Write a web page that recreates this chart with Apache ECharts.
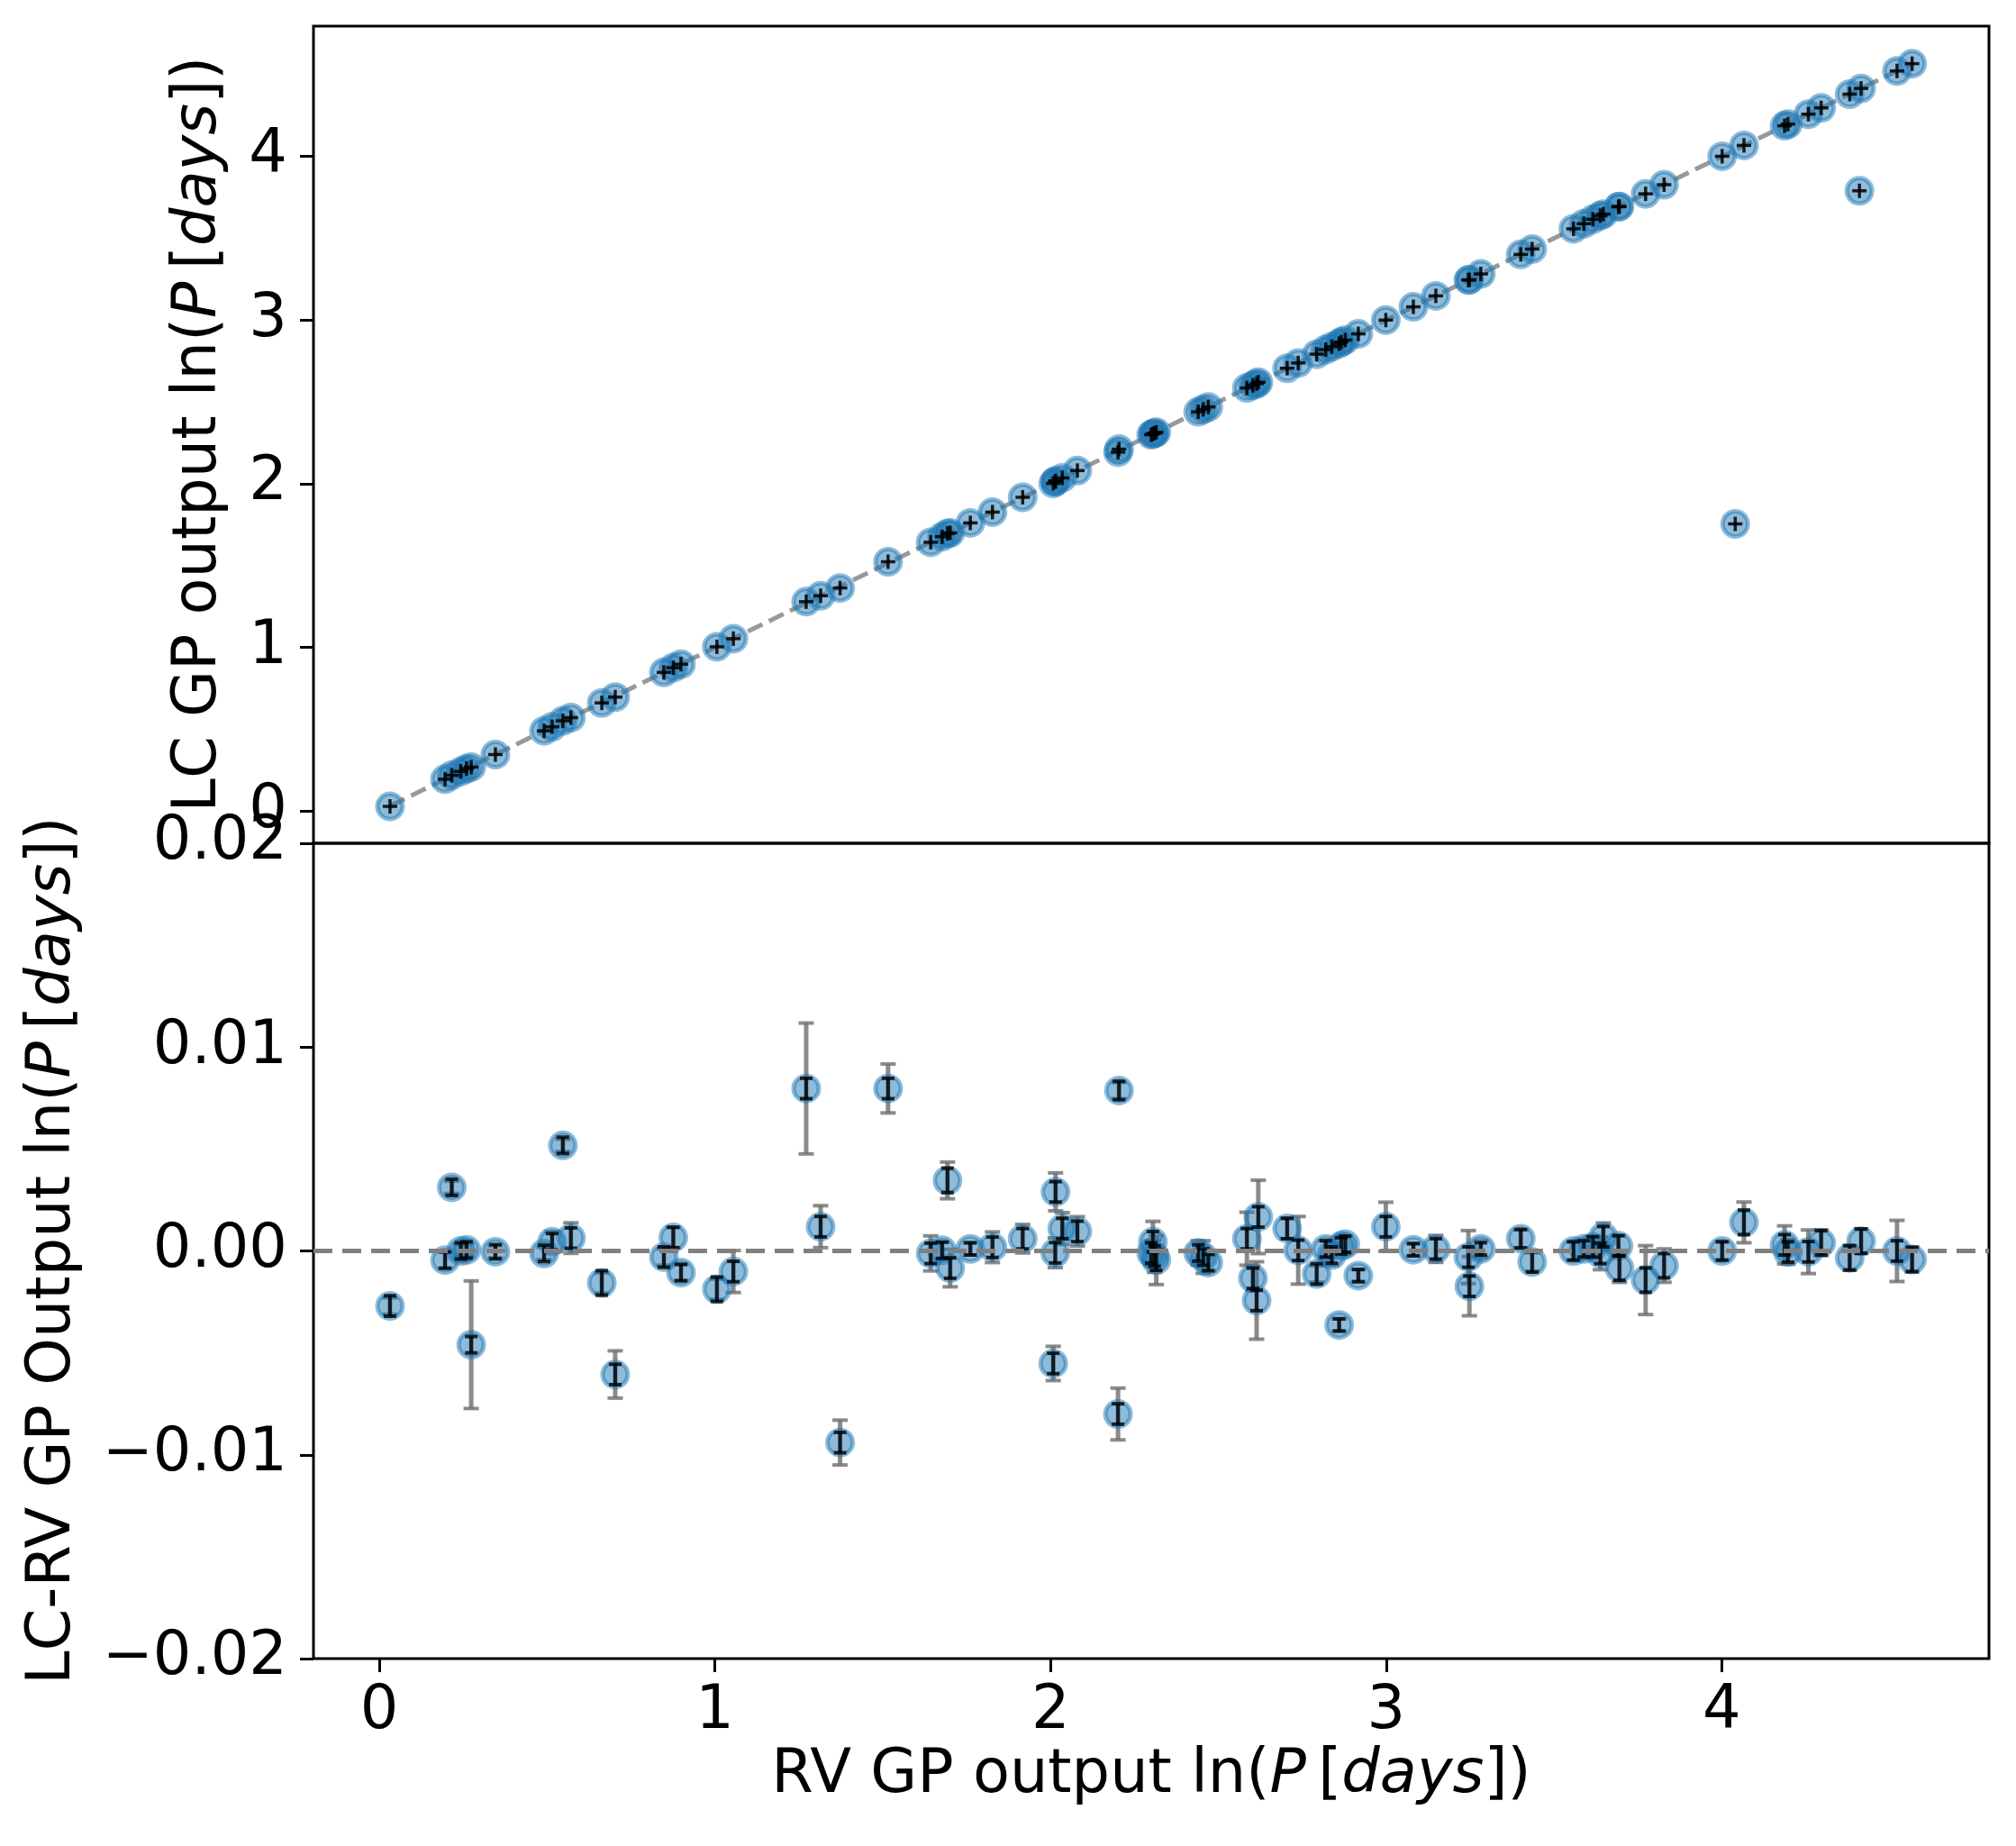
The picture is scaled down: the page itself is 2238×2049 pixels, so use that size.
<!DOCTYPE html>
<html>
<head>
<meta charset="utf-8">
<script src="https://cdn.jsdelivr.net/npm/echarts@6/dist/echarts.min.js"></script>
<style>
html,body{margin:0;padding:0;background:#fff;}
#chart{width:2238px;height:2049px;}
</style>
</head>
<body>
<div id="chart"></div>
<script>
// RV GP output ln(P) for every object shown in the residual panel
const rvLnP = [0.032,0.196,0.216,0.243,0.260,0.274,0.346,0.491,0.515,0.547,0.571,0.663,0.703,0.848,0.876,0.899,
  1.006,1.055,1.272,1.315,1.373,1.516,1.643,1.677,1.693,1.701,1.761,1.827,1.917,
  2.008,2.014,2.015,2.035,2.080,2.201,2.204,2.300,2.305,2.310,2.315,2.440,2.455,2.470,2.585,2.603,2.614,2.619,
  2.705,2.738,2.793,2.820,2.838,2.860,2.866,2.878,2.917,2.999,3.081,3.148,3.245,3.248,3.282,3.401,3.435,
  3.558,3.589,3.616,3.638,3.647,3.692,3.695,3.773,3.828,4.001,4.066,4.187,4.197,4.258,4.296,4.381,4.415,4.522,4.567];
// LC - RV ln(P)
const lcMinusRv = [-0.00270,-0.00045,0.00312,0.00000,0.00005,-0.00460,-0.00004,-0.00012,0.00045,0.00518,0.00063,-0.00157,-0.00606,-0.00030,0.00066,-0.00106,
  -0.00188,-0.00101,0.00797,0.00119,-0.00940,0.00797,-0.00012,0.00003,0.00346,-0.00084,0.00010,0.00018,0.00060,
  -0.00552,-0.00009,0.00290,0.00110,0.00096,-0.00800,0.00787,-0.00010,0.00045,-0.00025,-0.00045,-0.00010,-0.00030,-0.00057,0.00060,-0.00134,-0.00243,0.00167,
  0.00110,0.00003,-0.00113,0.00010,-0.00020,-0.00363,0.00025,0.00033,-0.00121,0.00119,0.00006,0.00010,-0.00030,-0.00173,0.00010,0.00060,-0.00054,
  0.00000,0.00010,0.00020,-0.00012,0.00070,0.00025,-0.00084,-0.00143,-0.00072,0.00000,0.00140,0.00030,-0.00005,-0.00004,0.00040,-0.00034,0.00048,0.00000,-0.00042];
// combined uncertainty (grey bars)
const lcMinusRvErr = [0.00040,0.00040,0.00030,0.00030,0.00030,0.00313,0.00030,0.00030,0.00050,0.00030,0.00075,0.00050,0.00116,0.00040,0.00050,0.00040,
  0.00050,0.00103,0.00321,0.00103,0.00110,0.00120,0.00086,0.00040,0.00090,0.00092,0.00030,0.00075,0.00070,
  0.00084,0.00073,0.00093,0.00078,0.00072,0.00127,0.00040,0.00060,0.00100,0.00080,0.00120,0.00060,0.00080,0.00040,0.00130,0.00060,0.00190,0.00180,
  0.00050,0.00166,0.00040,0.00040,0.00050,0.00030,0.00040,0.00040,0.00030,0.00120,0.00030,0.00066,0.00130,0.00145,0.00040,0.00045,0.00045,
  0.00045,0.00040,0.00050,0.00080,0.00067,0.00050,0.00070,0.00169,0.00082,0.00045,0.00100,0.00093,0.00060,0.00107,0.00063,0.00060,0.00060,0.00150,0.00060];
// small uncertainty (black bars)
const lcFitErr = [0.00050,0.00040,0.00040,0.00040,0.00040,0.00040,0.00035,0.00040,0.00040,0.00040,0.00050,0.00060,0.00050,0.00050,0.00050,0.00040,
  0.00060,0.00050,0.00050,0.00050,0.00050,0.00050,0.00050,0.00040,0.00060,0.00050,0.00030,0.00050,0.00050,
  0.00050,0.00050,0.00050,0.00050,0.00050,0.00050,0.00045,0.00050,0.00050,0.00050,0.00050,0.00040,0.00040,0.00040,0.00050,0.00050,0.00050,0.00050,
  0.00050,0.00050,0.00050,0.00040,0.00040,0.00030,0.00040,0.00040,0.00030,0.00050,0.00030,0.00050,0.00050,0.00050,0.00030,0.00045,0.00050,
  0.00045,0.00040,0.00050,0.00050,0.00050,0.00050,0.00060,0.00060,0.00060,0.00045,0.00060,0.00050,0.00050,0.00050,0.00060,0.00060,0.00060,0.00050,0.00060];
// objects whose LC period disagrees strongly (only visible in the upper panel)
const outlierRvLnP = [4.04, 4.41];
const outlierLcLnP = [1.755, 3.79];

const xTicks = [0, 1, 2, 3, 4];
const topYTicks = [0, 1, 2, 3, 4];
const bottomYTicks = [-0.02, -0.01, 0, 0.01, 0.02];

const FONT = 'DejaVu Sans';
const FS = 67;
const BLUE = 'rgba(31,119,180,0.5)';

const lcLnP = rvLnP.map((v, i) => v + lcMinusRv[i]);
const topPoints = rvLnP.map((v, i) => [v, lcLnP[i]]).concat(outlierRvLnP.map((v, i) => [v, outlierLcLnP[i]]));
const minX = Math.min(...rvLnP), maxX = Math.max(...rvLnP);

function errBar(color, lw, capW, capLw) {
  return function (params, api) {
    const x = api.value(0), y = api.value(1), e = api.value(2);
    const hi = api.coord([x, y + e]);
    const lo = api.coord([x, y - e]);
    const st = { stroke: color, lineWidth: lw, fill: null };
    const cs = { stroke: color, lineWidth: capLw, fill: null };
    return { type: 'group', children: [
      { type: 'line', shape: { x1: hi[0], y1: hi[1], x2: lo[0], y2: lo[1] }, style: st },
      { type: 'line', shape: { x1: hi[0] - capW / 2, y1: hi[1], x2: hi[0] + capW / 2, y2: hi[1] }, style: cs },
      { type: 'line', shape: { x1: lo[0] - capW / 2, y1: lo[1], x2: lo[0] + capW / 2, y2: lo[1] }, style: cs }
    ]};
  };
}
function plusMark(params, api) {
  const p = api.coord([api.value(0), api.value(1)]);
  const st = { stroke: 'rgba(0,0,0,0.85)', lineWidth: 3.5, fill: null };
  return { type: 'group', children: [
    { type: 'line', shape: { x1: p[0] - 8, y1: p[1], x2: p[0] + 8, y2: p[1] }, style: st },
    { type: 'line', shape: { x1: p[0], y1: p[1] - 8, x2: p[0], y2: p[1] + 8 }, style: st }
  ]};
}

const axisLabelBase = { color: '#000', fontSize: FS, fontFamily: FONT };
const tickBase = { show: true, inside: false, length: 15, lineStyle: { color: '#000', width: 3 } };
const noLine = { show: false, onZero: false };
const lnLabel = (pre) => '{n|' + pre + ' ln(}{i|P}{n|\u2009[}{i|days}{n|])}';
const rich = {
  n: { fontSize: FS, fontFamily: FONT, fill: '#000' },
  i: { fontSize: FS, fontFamily: FONT, fontStyle: 'italic', fill: '#000' }
};

const option = {
  animation: false,
  backgroundColor: '#fff',
  grid: [
    { left: 348, top: 29, width: 1860, height: 907, show: true, borderColor: '#000', borderWidth: 3, backgroundColor: 'transparent' },
    { left: 348, top: 936, width: 1860, height: 905, show: true, borderColor: '#000', borderWidth: 3, backgroundColor: 'transparent' }
  ],
  xAxis: [
    { gridIndex: 0, type: 'value', min: -0.196, max: 4.796, axisLine: noLine, axisTick: { show: false }, axisLabel: { show: false }, splitLine: { show: false } },
    { gridIndex: 1, type: 'value', min: -0.196, max: 4.796, axisLine: noLine, position: 'bottom',
      axisTick: Object.assign({ customValues: xTicks }, tickBase),
      axisLabel: Object.assign({ customValues: xTicks, margin: 26, formatter: v => String(v) }, axisLabelBase),
      splitLine: { show: false } }
  ],
  yAxis: [
    { gridIndex: 0, type: 'value', min: -0.196, max: 4.796, axisLine: noLine, position: 'left',
      axisTick: Object.assign({ customValues: topYTicks }, tickBase),
      axisLabel: Object.assign({ customValues: topYTicks, margin: 29, formatter: v => String(v) }, axisLabelBase),
      splitLine: { show: false } },
    { gridIndex: 1, type: 'value', min: -0.02, max: 0.02, axisLine: noLine, position: 'left',
      axisTick: Object.assign({ customValues: bottomYTicks }, tickBase),
      axisLabel: Object.assign({ customValues: bottomYTicks, margin: 29,
        formatter: v => (v < -1e-9 ? '\u2212' : '') + Math.abs(v).toFixed(2) }, axisLabelBase),
      splitLine: { show: false } }
  ],
  graphic: [
    { type: 'text', x: 1278, y: 1972, z: 100,
      style: { text: lnLabel('RV GP output'), rich: rich, align: 'center', verticalAlign: 'middle', textAlign: 'center', textVerticalAlign: 'middle', fontSize: FS, fontFamily: FONT, fill: '#000' } },
    { type: 'text', x: 222, y: 482, rotation: Math.PI / 2, z: 100,
      style: { text: lnLabel('LC GP output'), rich: rich, align: 'center', verticalAlign: 'middle', textAlign: 'center', textVerticalAlign: 'middle', fontSize: FS, fontFamily: FONT, fill: '#000' } },
    { type: 'text', x: 60, y: 1388, rotation: Math.PI / 2, z: 100,
      style: { text: lnLabel('LC-RV GP Output'), rich: rich, align: 'center', verticalAlign: 'middle', textAlign: 'center', textVerticalAlign: 'middle', fontSize: FS, fontFamily: FONT, fill: '#000' } }
  ],
  series: [
    { type: 'line', xAxisIndex: 0, yAxisIndex: 0, data: [[minX, minX], [maxX, maxX]], showSymbol: false, silent: true, z: 1,
      lineStyle: { color: 'rgba(128,128,128,0.8)', width: 5, type: [18, 8] } },
    { type: 'scatter', xAxisIndex: 0, yAxisIndex: 0, data: topPoints, symbol: 'circle', symbolSize: 28, z: 2,
      itemStyle: { color: BLUE, borderColor: BLUE, borderWidth: 5, opacity: 1 } },
    { type: 'custom', xAxisIndex: 0, yAxisIndex: 0, data: topPoints, renderItem: plusMark, z: 3, encode: { x: 0, y: 1 } },

    { type: 'custom', xAxisIndex: 1, yAxisIndex: 1, z: 2, encode: { x: 0, y: 1 }, clip: true,
      data: rvLnP.map((v, i) => [v, lcMinusRv[i], lcMinusRvErr[i]]),
      renderItem: errBar('rgba(110,110,110,0.8)', 5, 17, 4) },
    { type: 'scatter', xAxisIndex: 1, yAxisIndex: 1, data: rvLnP.map((v, i) => [v, lcMinusRv[i]]), symbol: 'circle', symbolSize: 28, z: 3,
      itemStyle: { color: BLUE, borderColor: BLUE, borderWidth: 5, opacity: 1 } },
    { type: 'custom', xAxisIndex: 1, yAxisIndex: 1, z: 4, encode: { x: 0, y: 1 }, clip: true,
      data: rvLnP.map((v, i) => [v, lcMinusRv[i], lcFitErr[i]]),
      renderItem: errBar('rgba(0,0,0,0.8)', 4, 14, 4) },
    { type: 'line', xAxisIndex: 1, yAxisIndex: 1, data: [], z: 5,
      markLine: { silent: true, symbol: 'none', label: { show: false },
        lineStyle: { color: '#808080', width: 5, type: [21, 11] },
        data: [{ yAxis: 0 }] } }
  ]
};

const chart = echarts.init(document.getElementById('chart'), null, { renderer: 'canvas' });
chart.setOption(option);
</script>
</body>
</html>
